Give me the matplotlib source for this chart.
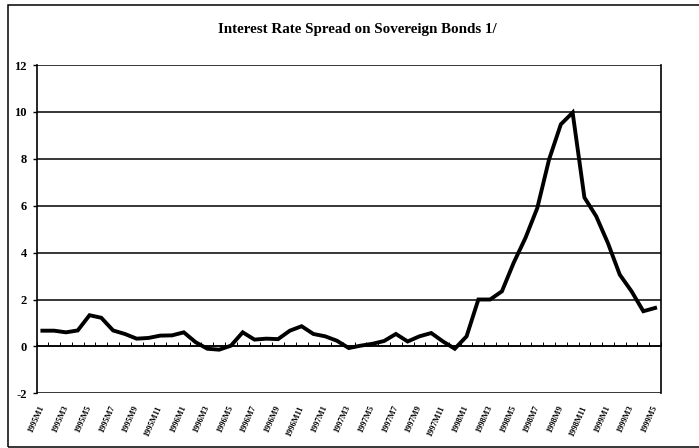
import matplotlib
matplotlib.use("Agg")
import matplotlib.pyplot as plt
from matplotlib.patches import Rectangle
from matplotlib.ticker import FixedLocator

# ---- data ----
years = [1995] * 12 + [1996] * 12 + [1997] * 12 + [1998] * 12 + [1999] * 5
months = list(range(1, 13)) * 4 + [1, 2, 3, 4, 5]
categories = [f"{y}M{m}" for y, m in zip(years, months)]
spread = [0.67, 0.67, 0.60, 0.68, 1.33, 1.22, 0.68, 0.53, 0.33, 0.36, 0.46, 0.47,
          0.60, 0.18, -0.10, -0.14, 0.03, 0.60, 0.29, 0.33, 0.31, 0.67, 0.86, 0.53,
          0.43, 0.24, -0.07, 0.03, 0.11, 0.23, 0.53, 0.21, 0.43, 0.57, 0.21, -0.10,
          0.43, 2.00, 2.00, 2.35, 3.57, 4.63, 5.90, 7.97, 9.47, 9.97, 6.35, 5.55,
          4.40, 3.06, 2.35, 1.50, 1.64]
y_ticks = [-2, 0, 2, 4, 6, 8, 10, 12]
title = "Interest Rate Spread on Sovereign Bonds 1/"

W, H = 699, 448
fig = plt.figure(figsize=(W / 100, H / 100), dpi=100)
ax = fig.add_axes([36.5 / W, 1 - 393.3 / H, (661 - 36.5) / W, (393.3 - 65) / H])

serif = ["Liberation Serif", "DejaVu Serif"]
n = len(spread)
xs = list(range(n))
ax.plot(xs, spread, color="black", lw=2.8, solid_joinstyle="miter", zorder=3)

ax.set_xlim(-0.5, n - 0.5)
ax.set_ylim(y_ticks[0], y_ticks[-1])

# gridlines (including bottom border at -2 and top at 12)
ax.set_yticks(y_ticks)
for t in y_ticks:
    ax.axhline(t, color="black", lw=1.1, zorder=1)
ax.set_yticklabels([str(t) for t in y_ticks], fontfamily=serif,
                   fontweight="bold", fontsize=9)
ax.tick_params(axis="y", direction="out", length=3, width=1, pad=4)

# category axis crosses at zero
ax.spines["bottom"].set_position(("data", 0))
ax.spines["bottom"].set_linewidth(1.1)
ax.spines["top"].set_visible(False)
for s in ["left", "right"]:
    ax.spines[s].set_linewidth(1.2)

ax.xaxis.set_minor_locator(FixedLocator([i - 0.5 for i in range(n + 1)]))
ax.xaxis.set_major_locator(FixedLocator(xs[::2]))
ax.set_xticklabels(categories[::2], fontfamily=serif, fontweight="bold",
                   fontsize=6, rotation=66, ha="right", va="center",
                   rotation_mode="anchor")
ax.tick_params(axis="x", which="major", length=0, pad=43)
ax.tick_params(axis="x", which="minor", direction="in", length=3, width=0.7)

fig.text(357 / W, 1 - 30 / H, title, ha="center", va="center",
         fontfamily=serif, fontweight="bold", fontsize=10.8)

# outer frame
fig.patches.append(Rectangle((8 / W, 1 - 447 / H), 1.2, (447 - 5) / H,
                             transform=fig.transFigure, fill=False,
                             edgecolor="black", lw=1.1))

fig.savefig("out.png", dpi=100)
